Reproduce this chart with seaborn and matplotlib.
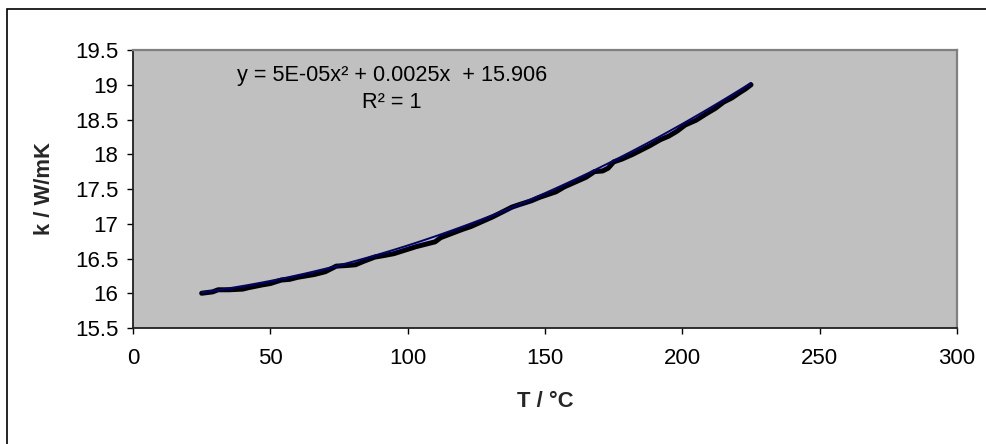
import numpy as np
import pandas as pd
import matplotlib
matplotlib.use("Agg")
import matplotlib.pyplot as plt
from matplotlib.ticker import MultipleLocator, FuncFormatter
from matplotlib.patches import Rectangle
import seaborn as sns

# ---- data ----
temperature = [25, 27, 29, 31, 35, 40, 42, 47, 50, 54, 57, 60, 63, 66, 70, 72, 74,
               78, 81, 84, 88, 91, 95, 99, 103, 106, 110, 112, 116, 120, 123, 127,
               131, 135, 138, 141, 145, 148, 151, 154, 157, 161, 165, 168, 171, 173,
               175, 178, 182, 185, 188, 192, 195, 198, 201, 205, 209, 212, 215, 218,
               221, 223, 225]
conductivity = [16.00, 16.01, 16.02, 16.05, 16.05, 16.06, 16.08, 16.12, 16.14, 16.19,
                16.20, 16.23, 16.25, 16.27, 16.31, 16.35, 16.39, 16.40, 16.41, 16.46,
                16.52, 16.54, 16.57, 16.62, 16.67, 16.70, 16.74, 16.80, 16.86, 16.92,
                16.96, 17.03, 17.10, 17.18, 17.24, 17.28, 17.33, 17.38, 17.42, 17.46,
                17.53, 17.60, 17.67, 17.75, 17.76, 17.80, 17.89, 17.93, 18.00, 18.06,
                18.12, 18.21, 18.26, 18.33, 18.42, 18.49, 18.59, 18.66, 18.75, 18.81,
                18.89, 18.94, 19.00]
# points read along the blue polynomial trendline
trend_T = [25, 34, 72, 110, 143, 175, 194, 214, 225]
trend_k = [16.00, 16.08, 16.39, 16.80, 17.29, 17.92, 18.35, 18.76, 19.00]
equation_text = "y = 5E-05x\u00b2 + 0.0025x  + 15.906"
r2_text = "R\u00b2 = 1"
x_label = "T / \u00b0C"
y_label = "k / W/mK"

df = pd.DataFrame({"T": temperature, "k": conductivity})
# 2nd-order polynomial trendline fitted to the read trendline points
coef = np.polyfit(trend_T, trend_k, 2)
trend_df = pd.DataFrame({"T": df["T"]})
trend_df["k"] = np.polyval(coef, trend_df["T"])

sns.set_theme(style="ticks")
plt.rcParams["font.family"] = ["Liberation Sans", "DejaVu Sans"]

fig = plt.figure(figsize=(9.87, 4.44), dpi=100)
fig.patch.set_facecolor("white")
ax = fig.add_axes([133 / 987, 1 - 328 / 444, (957 - 133) / 987, (328 - 50) / 444])
ax.set_facecolor("#C0C0C0")

sns.lineplot(data=df, x="T", y="k", ax=ax, color="black", linewidth=3.6,
             estimator=None, sort=False, solid_capstyle="round",
             solid_joinstyle="round", zorder=3)
sns.lineplot(data=trend_df, x="T", y="k", ax=ax, color="#000080", linewidth=1.4,
             estimator=None, sort=False, zorder=4)

ax.set_xlim(0, 300)
ax.set_ylim(15.5, 19.5)
ax.xaxis.set_major_locator(MultipleLocator(50))
ax.yaxis.set_major_locator(MultipleLocator(0.5))
ax.yaxis.set_major_formatter(FuncFormatter(lambda v, p: f"{v:g}"))
ax.xaxis.set_major_formatter(FuncFormatter(lambda v, p: f"{v:g}"))

ax.tick_params(axis="both", labelsize=16, colors="black", direction="out",
               length=4.5, width=1.0)
ax.tick_params(axis="x", pad=10)
ax.tick_params(axis="y", pad=6)

for side in ["left", "bottom"]:
    ax.spines[side].set_color("#202020")
    ax.spines[side].set_linewidth(1.3)
for side in ["top", "right"]:
    ax.spines[side].set_visible(True)
    ax.spines[side].set_color("#808080")
    ax.spines[side].set_linewidth(1.6)

ax.set_xlabel(x_label, fontsize=15.8, fontweight="bold", va="center")
ax.xaxis.set_label_coords(0.5, -(401.7 - 328) / 278)
ax.set_ylabel(y_label, fontsize=15.8, fontweight="bold", va="center")
ax.yaxis.set_label_coords((45 - 133) / 824, 0.5)

ax.text(94.3, 19.13, equation_text, fontsize=15.6, ha="center", va="center",
        color="black")
ax.text(94.3, 18.74, r2_text, fontsize=15.6, ha="center", va="center",
        color="black")

# outer chart border (cropped at right and bottom in the reference)
fig.patches.append(Rectangle((7 / 987, -0.2), 1.5, 0.2 + 1 - 9 / 444,
                             transform=fig.transFigure, fill=False,
                             edgecolor="black", linewidth=1.2))

fig.savefig("out.png", dpi=100)
